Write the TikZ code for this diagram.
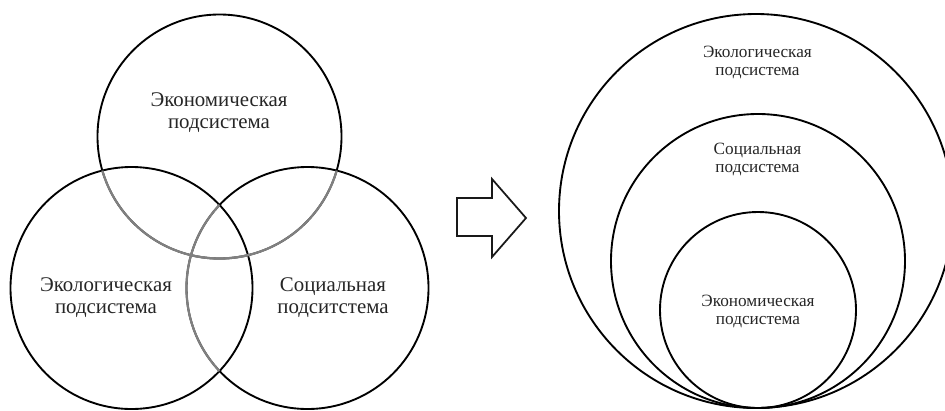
\documentclass[tikz,border=0pt]{standalone}
\usepackage{fontspec}
\setmainfont{Liberation Serif}

\begin{document}
\begin{tikzpicture}[x=0.03cm, y=0.03cm]
   \tikzstyle{ring}=[draw=black, line width=1.6pt]
   \tikzstyle{faint}=[draw=black!50, line width=1.9pt]
   \tikzstyle{arrowbox}=[draw=black!90, line width=1.5pt, line join=miter]
   \tikzstyle{every node}=[align=center, text=black!85, inner sep=0pt]
   \tikzstyle{biglbl}=[font=\fontsize{17.8}{18.7}\selectfont]
   \tikzstyle{smalllbl}=[font=\fontsize{14.7}{15.3}\selectfont]

\useasboundingbox (0,0) rectangle (945,-410);

\coordinate (econ) at (219.5,-136.5);
\coordinate (ecol) at (131.5,-288);
\coordinate (soc)  at (307.5,-288);

\draw[ring] (econ) circle[radius=122];
\draw[ring] (ecol) circle[radius=121];
\draw[ring] (soc)  circle[radius=121];

\begin{scope}
    \clip (ecol) circle[radius=121];
    \draw[faint] (econ) circle[radius=122];
    \draw[faint] (soc) circle[radius=121];
\end{scope}
\begin{scope}
    \clip (soc) circle[radius=121];
    \draw[faint] (econ) circle[radius=122];
\end{scope}

\node[biglbl] (econ label) at (219,-113) {Экономическая\\подсистема};
\node[biglbl] (ecol label) at (106,-298) {Экологическая\\подсистема};
\node[biglbl] (soc label)  at (333,-298) {Социальная\\подситстема};

\draw[arrowbox] (457,-198) -- (492,-198) -- (492,-179) -- (526,-218)
    -- (492,-257) -- (492,-236) -- (457,-236) -- cycle;

\coordinate (outer) at (756,-211);
\coordinate (middle) at (758,-261);
\coordinate (inner) at (758,-310);

\draw[ring] (outer)  circle[radius=197];
\draw[ring] (middle) circle[radius=147];
\draw[ring] (inner)  circle[radius=98];

\node[smalllbl] (outer label)  at (757.5,-62)  {Экологическая\\подсистема};
\node[smalllbl] (middle label) at (757.5,-159) {Социальная\\подсистема};
\node[smalllbl] (inner label)  at (758,-311)   {Экономическая\\подсистема};

\end{tikzpicture}
\end{document}
